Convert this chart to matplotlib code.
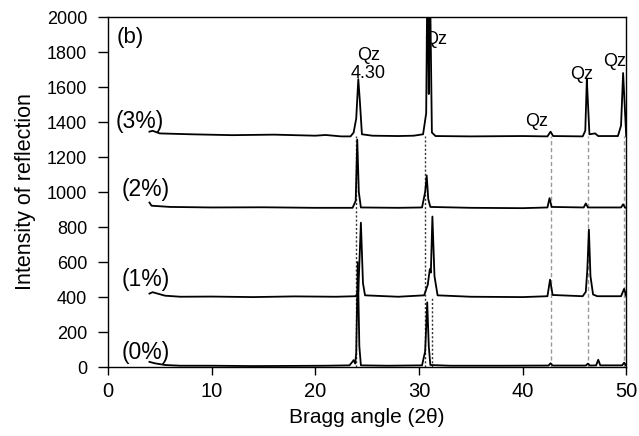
import matplotlib
matplotlib.use('Agg')
import matplotlib.pyplot as plt

plt.rcParams['font.family'] = ['Liberation Sans', 'DejaVu Sans']

# 0 % sample
x0 = [4.0, 4.5, 5.5, 7.0, 10, 14, 18, 21, 23.3, 23.55, 23.7, 23.85, 23.95, 24.1, 24.25,
      24.4, 27, 30.3, 30.6, 30.8, 30.95, 31.1, 33, 38, 42.5, 42.7, 42.9, 46.1, 46.3, 46.5,
      47.1, 47.3, 47.5, 49.6, 49.8, 50.0]
y0 = [30, 22, 12, 8, 8, 6, 7, 8, 10, 28, 40, 20, 80, 600, 120,
      10, 8, 10, 90, 370, 120, 12, 8, 8, 9, 22, 9, 9, 20, 9,
      10, 42, 10, 10, 25, 8]

# 1 % sample
x1 = [4.0, 4.3, 5.5, 7.0, 10, 14, 18, 22, 23.9, 24.15, 24.4, 24.6, 24.8, 28, 30.5,
      30.85, 31.05, 31.15, 31.3, 31.5, 31.8, 35, 40, 42.4, 42.65, 42.9, 45.8, 46.1, 46.25,
      46.4, 46.55, 46.8, 47.2, 49.5, 49.8, 50.0]
y1 = [420, 428, 408, 402, 403, 400, 404, 402, 405, 430, 825, 480, 410, 402, 410,
      470, 560, 540, 860, 520, 410, 402, 400, 405, 500, 412, 405, 430, 560,
      785, 520, 415, 405, 405, 447, 405]

# 2 % sample
x2 = [4.0, 4.2, 6.0, 10, 15, 20, 23.6, 23.9, 24.05, 24.2, 24.4, 28, 30.3, 30.6,
      30.75, 30.9, 31.1, 35, 40, 42.4, 42.6, 42.8, 45.9, 46.1, 46.3, 49.5, 49.7, 49.9, 50.0]
y2 = [940, 922, 915, 912, 913, 910, 910, 950, 1300, 1000, 912, 910, 912, 1000,
      1095, 960, 915, 910, 908, 912, 965, 915, 912, 935, 912, 912, 930, 910, 910]

# 3 % sample
x3 = [4.0, 4.3, 5.0, 8.0, 12, 16, 20, 21, 22.5, 23.4, 23.7, 23.95, 24.15, 24.3, 24.5,
      25.5, 28, 29.5, 30.4, 30.7, 30.82, 30.95, 31.05, 31.25, 31.6, 35, 40, 42.4, 42.7,
      42.95, 45.8, 46.05, 46.2, 46.3, 46.45, 47.0, 47.3, 49.2, 49.5, 49.7, 49.85, 50.0]
y3 = [1345, 1350, 1335, 1330, 1325, 1328, 1322, 1326, 1318, 1318, 1340, 1420, 1645, 1520, 1330,
      1322, 1320, 1322, 1330, 1450, 2300, 1560, 2300, 1340, 1320, 1318, 1320, 1318, 1345,
      1320, 1318, 1350, 1645, 1520, 1330, 1335, 1320, 1320, 1380, 1680, 1500, 1320]

# reference lines
dark_lines = [23.9, 30.6]
dark_tops = [1320, 1320]
extra_line, extra_top = 31.3, 400
grey_lines = [42.7, 46.3, 49.75]
grey_top = 1320

sample_labels = ['(3%)', '(2%)', '(1%)', '(0%)']
sample_label_x = [0.7, 1.3, 1.3, 1.3]
sample_label_y = [1404, 1014, 499, 86]

qz_text = ['Qz\n4.30', 'Qz', 'Qz', 'Qz', 'Qz']
qz_x = [25.1, 31.6, 41.4, 45.7, 48.9]
qz_y = [1730, 1874, 1404, 1673, 1748]

fig = plt.figure(figsize=(6.39, 4.36), dpi=100)
ax = fig.add_axes([0.169, 0.158, 0.811, 0.803])

for xv, top in zip(dark_lines, dark_tops):
    ax.plot([xv, xv], [0, top], color='#333333', ls=(0, (1.5, 1.5)), lw=1.0)
ax.plot([extra_line, extra_line], [0, extra_top], color='#333333', ls=(0, (1.5, 1.5)), lw=1.0)
for xv in grey_lines:
    ax.plot([xv, xv], [0, grey_top], color='#999999', ls=(0, (3, 2)), lw=1.0)

for xs, ys in [(x0, y0), (x1, y1), (x2, y2), (x3, y3)]:
    ax.plot(xs, ys, color='black', lw=1.3)

for t, xv, yv in zip(sample_labels, sample_label_x, sample_label_y):
    ax.text(xv, yv, t, fontsize=16.5, ha='left', va='center')

ax.text(0.8, 1885, '(b)', fontsize=16, ha='left', va='center')

for t, xv, yv in zip(qz_text, qz_x, qz_y):
    ax.text(xv, yv, t, fontsize=13, ha='center', va='center', linespacing=1.1)

ax.set_xlim(0, 50)
ax.set_ylim(0, 2000)
ax.set_xticks(range(0, 51, 10))
ax.set_yticks(range(0, 2001, 200))
ax.tick_params(axis='both', direction='out', width=1, top=False, right=False)
ax.tick_params(axis='y', length=7, pad=8, labelsize=13)
ax.tick_params(axis='x', length=6, pad=5, labelsize=14.5)
ax.set_xlabel('Bragg angle (2θ)', fontsize=15, labelpad=5)
ax.set_ylabel('Intensity of reflection', fontsize=15.5, labelpad=8)
for s in ax.spines.values():
    s.set_linewidth(1.0)

fig.savefig('out.png', dpi=100)
